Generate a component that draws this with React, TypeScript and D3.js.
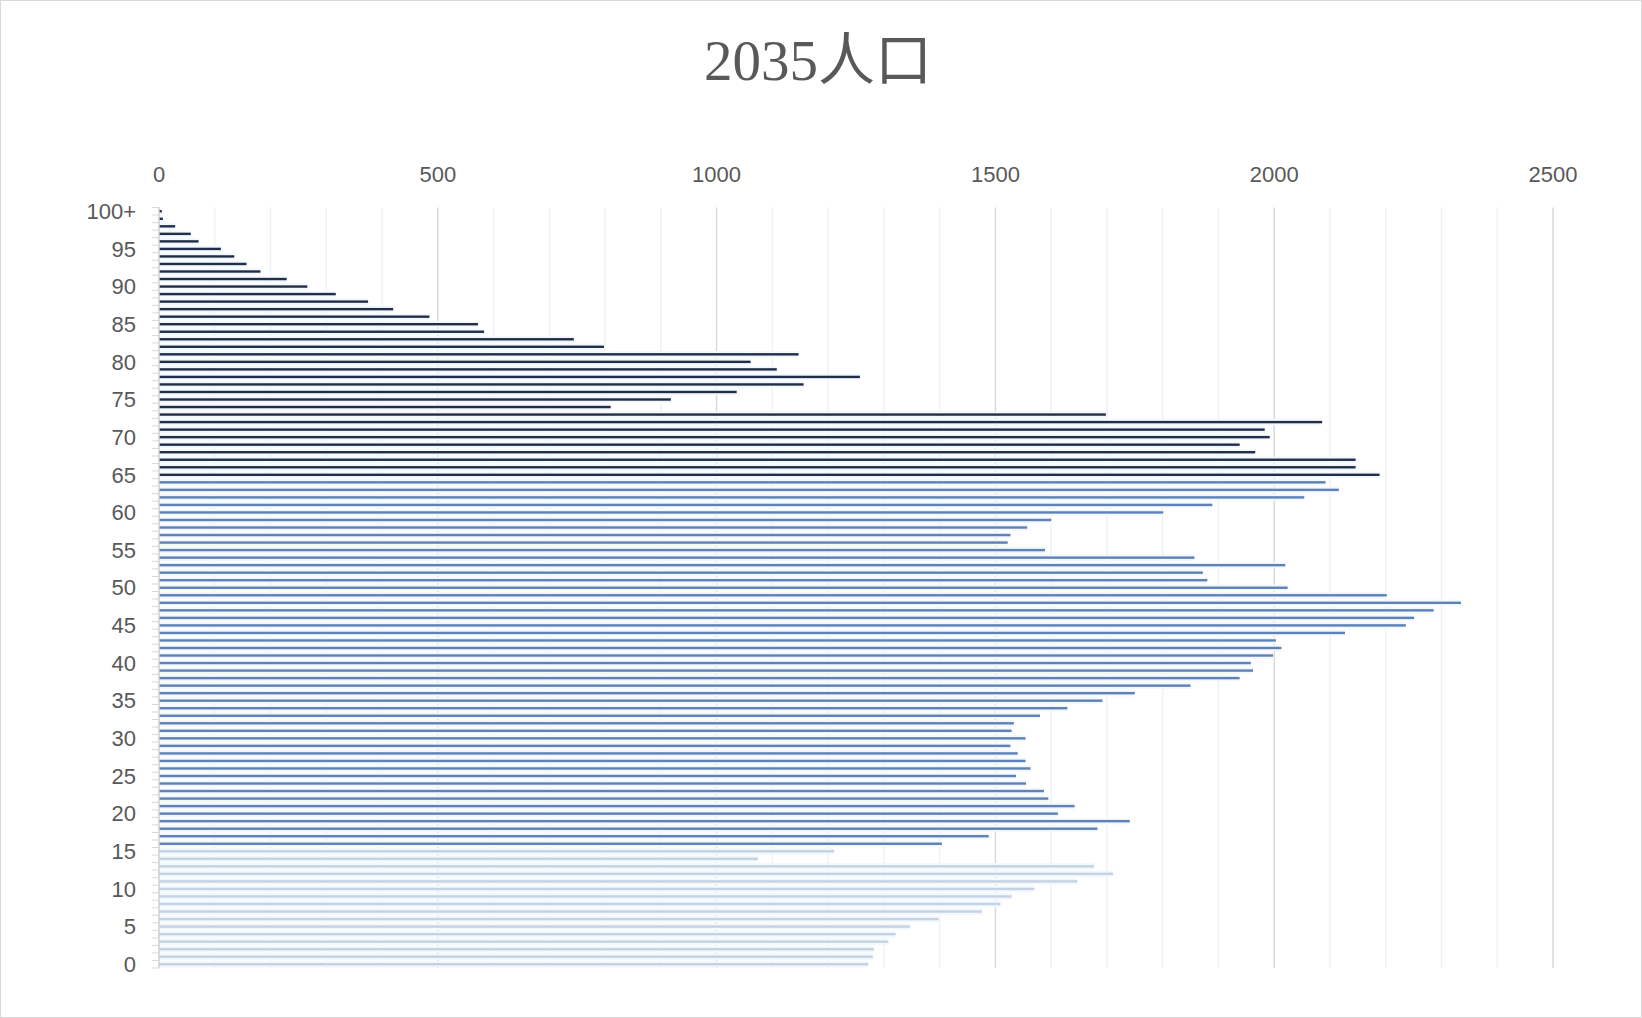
import * as d3 from 'd3';

// 2035 population by single year of age, 0 .. 100+
const ageLabels: string[] = d3.range(0, 101).map((a) => (a === 100 ? '100+' : String(a)));
const population2035: number[] = [
  1272, 1280, 1282, 1308, 1321, 1347, 1398, 1476, 1509, 1529,
  1570, 1647, 1711, 1677, 1074, 1211, 1404, 1488, 1683, 1741,
  1612, 1642, 1595, 1587, 1555, 1537, 1563, 1554, 1540, 1527,
  1554, 1529, 1533, 1580, 1629, 1692, 1750, 1850, 1938, 1962,
  1958, 1998, 2013, 2003, 2127, 2236, 2251, 2286, 2335, 2202,
  2024, 1880, 1872, 2020, 1857, 1589, 1522, 1527, 1557, 1600,
  1801, 1889, 2054, 2116, 2092, 2189, 2146, 2146, 1966, 1938,
  1992, 1983, 2086, 1698, 810, 918, 1036, 1156, 1257, 1108,
  1061, 1147, 798, 744, 583, 572, 485, 420, 375, 317,
  266, 229, 182, 157, 135, 111, 71, 57, 29, 7,
  5,
];
const xTicks: number[] = [0, 500, 1000, 1500, 2000, 2500];
const yTickLabels: string[] = ageLabels.filter((_, i) => i % 5 === 0);

const width = 1642;
const height = 1018;

function barColor(age: number) {
  if (age >= 65) return '#222e48';
  if (age >= 16) return '#5e81b7';
  return '#c4d2e3';
}

export default function App() {
  const x = d3.scaleLinear().domain([0, 2500]).range([159, 1553]);
  const y = d3
    .scaleBand<string>()
    .domain([...ageLabels].reverse())
    .range([207.5, 968])
    .padding(0);
  const bw = y.bandwidth();
  const minor = d3.range(100, 2501, 100).filter((v) => v % 500 !== 0);
  const font = "'Liberation Sans', Arial, sans-serif";

  return (
    <svg
      width={width}
      height={height}
      style={{ position: 'absolute', left: 0, top: 0, background: '#fff' }}
    >
      <rect x={0.5} y={0.5} width={width - 1} height={height - 1} fill="#fff" stroke="#d9d9d9" />

      <text
        x={818}
        y={80}
        textAnchor="middle"
        fill="#595959"
        style={{ font: "57px 'Liberation Serif', 'Noto Sans CJK SC', serif" }}
      >
        2035人口
      </text>

      {/* gridlines */}
      {minor.map((v) => (
        <line key={'m' + v} x1={x(v)} x2={x(v)} y1={207.5} y2={968} stroke="#edf0f4" strokeWidth={1.3} />
      ))}
      {xTicks.slice(1).map((v) => (
        <line key={'M' + v} x1={x(v)} x2={x(v)} y1={207.5} y2={968} stroke="#d9d9d9" strokeWidth={1.5} />
      ))}

      {/* top axis labels */}
      {xTicks.map((v) => (
        <text
          key={'t' + v}
          x={x(v)}
          y={182}
          textAnchor="middle"
          fill="#595959"
          style={{ font: `22px ${font}` }}
        >
          {v}
        </text>
      ))}

      {/* bars */}
      {population2035.map((v, i) => {
        const cy = (y(ageLabels[i]) ?? 0) + bw / 2;
        return (
          <g key={'b' + i}>
            <rect x={x(0)} y={cy - bw / 2 + 0.5} width={x(v) - x(0)} height={bw - 1} fill="#f2f8fd" />
            <rect x={x(0)} y={cy - 1.2} width={x(v) - x(0)} height={2.4} fill={barColor(i)} />
          </g>
        );
      })}

      {/* left axis */}
      <line x1={x(0)} x2={x(0)} y1={207.5} y2={968} stroke="#d0d0d0" strokeWidth={1.5} />
      {d3.range(0, 102).map((k) => (
        <line
          key={'k' + k}
          x1={x(0) - 7}
          x2={x(0)}
          y1={207.5 + k * bw}
          y2={207.5 + k * bw}
          stroke="#d9d9d9"
          strokeWidth={1}
        />
      ))}
      {yTickLabels.map((l) => (
        <text
          key={'y' + l}
          x={136}
          y={(y(l) ?? 0) + bw / 2}
          dy="0.35em"
          textAnchor="end"
          fill="#595959"
          style={{ font: `22px ${font}` }}
        >
          {l}
        </text>
      ))}
    </svg>
  );
}
